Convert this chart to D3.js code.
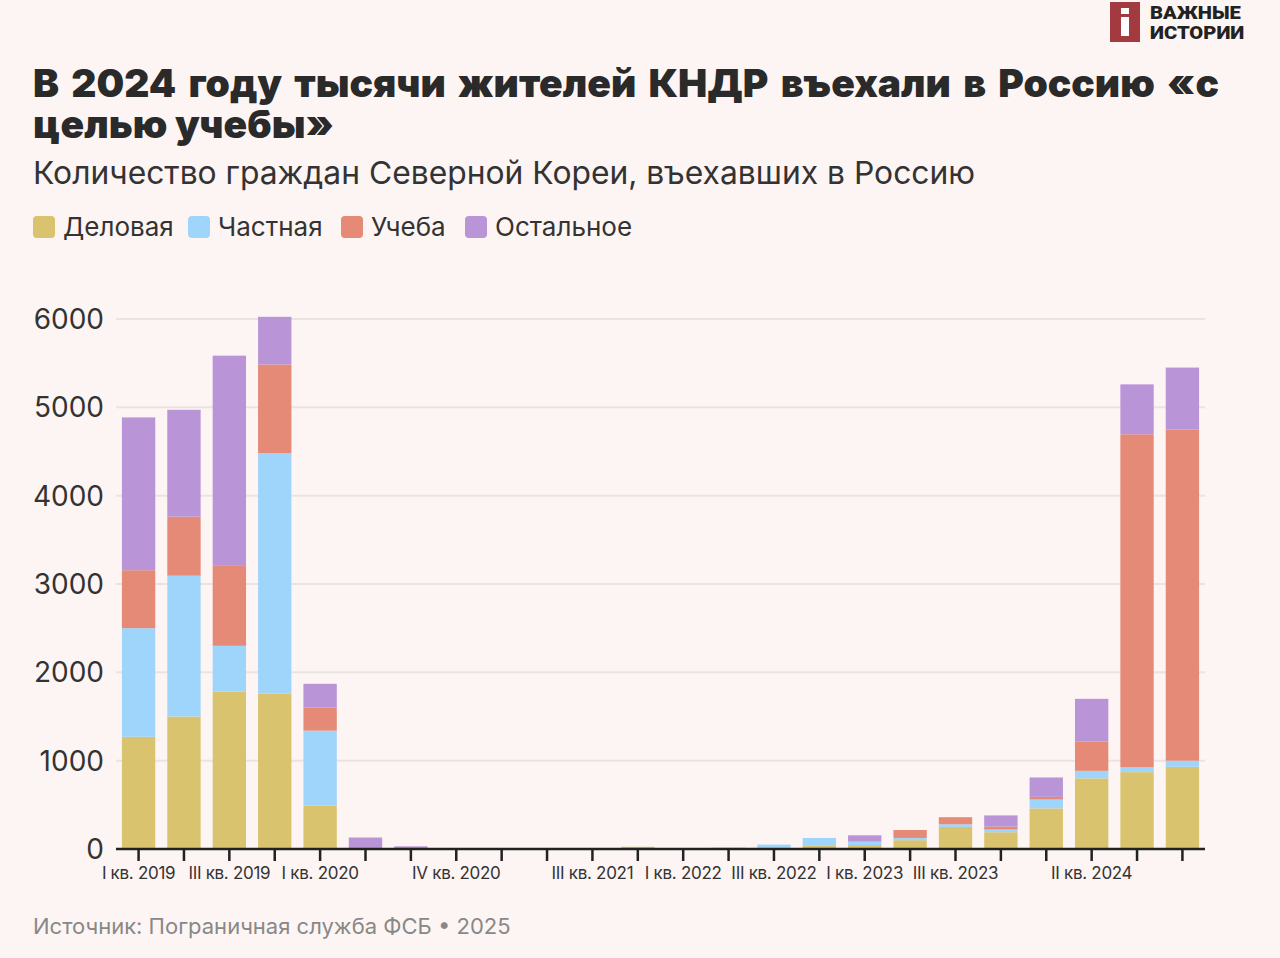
<!DOCTYPE html>
<html><head><meta charset="utf-8">
<script src="https://cdn.jsdelivr.net/npm/d3@7"></script>
<style>
html,body{margin:0;padding:0;background:#fdf5f3;}
svg{display:block;}
</style></head>
<body><svg id="chart" width="1280" height="958"></svg>
<script>
const quarters = ["I кв. 2019","II кв. 2019","III кв. 2019","IV кв. 2019",
  "I кв. 2020","II кв. 2020","III кв. 2020","IV кв. 2020",
  "I кв. 2021","II кв. 2021","III кв. 2021","IV кв. 2021",
  "I кв. 2022","II кв. 2022","III кв. 2022","IV кв. 2022",
  "I кв. 2023","II кв. 2023","III кв. 2023","IV кв. 2023",
  "I кв. 2024","II кв. 2024","III кв. 2024","IV кв. 2024"];
const shownLabels = ["I кв. 2019","III кв. 2019","I кв. 2020","IV кв. 2020","III кв. 2021",
  "I кв. 2022","III кв. 2022","I кв. 2023","III кв. 2023","II кв. 2024"];
const seriesNames = ["Деловая","Частная","Учеба","Остальное"];
const business = [1270,1500,1780,1760,490,0,0,0,0,8,10,25,10,15,5,35,45,100,250,190,460,800,870,930];
const privateV = [1230,1594,520,2720,850,0,0,0,0,0,0,0,0,0,45,90,38,25,30,30,100,85,55,70];
const study    = [656,668,905,1005,260,0,0,0,0,0,0,0,0,0,0,0,0,90,80,35,30,330,3770,3750];
const other    = [1730,1210,2380,540,270,130,30,0,0,0,0,0,0,0,0,0,72,0,0,125,220,485,565,700];
const yTicks = [0,1000,2000,3000,4000,5000,6000];
const colors = ["#dac36f","#a0d5fb","#e58a76","#b994d7"];

const svg = d3.select("#chart");
const W = 1280, H = 958;
svg.append("rect").attr("width",W).attr("height",H).attr("fill","#fdf5f3");

// logo
const logo = svg.append("g");
logo.append("rect").attr("x",1110).attr("y",2).attr("width",30).attr("height",40).attr("fill","#a33a40");
logo.append("rect").attr("x",1121).attr("y",8).attr("width",8).attr("height",6).attr("fill","#fff");
logo.append("rect").attr("x",1121).attr("y",17).attr("width",8).attr("height",19).attr("fill","#fff");
const logoText = logo.append("g").attr("transform","translate(1150,0) scale(1.12,1)");
logoText.append("text").attr("x",0).attr("y",19).text("ВАЖНЫЕ")
  .attr("font-family","Roboto").attr("font-weight",900).attr("font-size",18).attr("fill","#222");
logoText.append("text").attr("x",0).attr("y",39).text("ИСТОРИИ")
  .attr("font-family","Roboto").attr("font-weight",900).attr("font-size",18).attr("fill","#222");

// title
const tFont = "Inter";
svg.append("text").attr("x",33).attr("y",97).text("В 2024 году тысячи жителей КНДР въехали в Россию «с")
  .attr("font-family",tFont).attr("font-weight",900).attr("font-size",39).attr("fill","#2a2a2a")
  .attr("word-spacing",4.5);
svg.append("text").attr("x",33).attr("y",138).text("целью учебы»")
  .attr("font-family",tFont).attr("font-weight",900).attr("font-size",39).attr("fill","#2a2a2a");
svg.append("text").attr("x",33).attr("y",184).text("Количество граждан Северной Кореи, въехавших в Россию")
  .attr("font-family","Inter").attr("font-weight",400).attr("font-size",31.8).attr("fill","#333");

// legend
const legX = [33,188,341,465];
const leg = svg.append("g").selectAll("g").data(seriesNames).join("g")
  .attr("transform",(d,i)=>`translate(${legX[i]},216)`);
leg.append("rect").attr("width",22).attr("height",22).attr("rx",4).attr("fill",(d,i)=>colors[i]);
leg.append("text").attr("x",30).attr("y",20).text(d=>d)
  .attr("font-family","Inter").attr("font-size",26).attr("fill","#333");

// scales
const x = d3.scaleBand().domain(quarters).range([116,1205]).paddingInner(0.265).paddingOuter(0.13);
const y = d3.scaleLinear().domain([0,6000]).range([849,319]);

// grid
svg.append("g").selectAll("line").data(yTicks.filter(d=>d>0)).join("line")
  .attr("x1",116).attr("x2",1205).attr("y1",d=>y(d)).attr("y2",d=>y(d))
  .attr("stroke","#ebe3e1").attr("stroke-width",2);

// y labels
svg.append("g").selectAll("text").data(yTicks).join("text")
  .attr("x",104).attr("y",d=>y(d)+10).attr("text-anchor","end").text(d=>d)
  .attr("font-family","Inter").attr("font-size",28).attr("fill","#333");

// stacked bars
const rows = quarters.map((q,i)=>({q, "Деловая":business[i], "Частная":privateV[i], "Учеба":study[i], "Остальное":other[i]}));
const stacked = d3.stack().keys(seriesNames)(rows);
svg.append("g").selectAll("g").data(stacked).join("g").attr("fill",(d,i)=>colors[i])
  .selectAll("rect").data(d=>d).join("rect")
  .attr("x",d=>x(d.data.q)).attr("width",x.bandwidth())
  .attr("y",d=>y(d[1])).attr("height",d=>Math.max(0,y(d[0])-y(d[1])));

// x axis
const xAxis = d3.axisBottom(x).tickSize(12).tickSizeOuter(0)
  .tickFormat(d=>shownLabels.includes(d)?d:"");
const gx = svg.append("g").attr("transform","translate(0,849)").call(xAxis);
gx.select(".domain").attr("stroke","#222").attr("stroke-width",2.5).attr("d","M116,0H1205");
gx.selectAll(".tick line").attr("stroke","#222").attr("stroke-width",2.5);
gx.selectAll(".tick text").attr("font-family","Inter").attr("font-size",17).attr("fill","#333").attr("dy","0.9em")
  .attr("letter-spacing","-0.3");

// source
svg.append("text").attr("x",33).attr("y",934).text("Источник: Пограничная служба ФСБ • 2025")
  .attr("font-family","Inter").attr("font-size",22).attr("fill","#888");
</script></body></html>
